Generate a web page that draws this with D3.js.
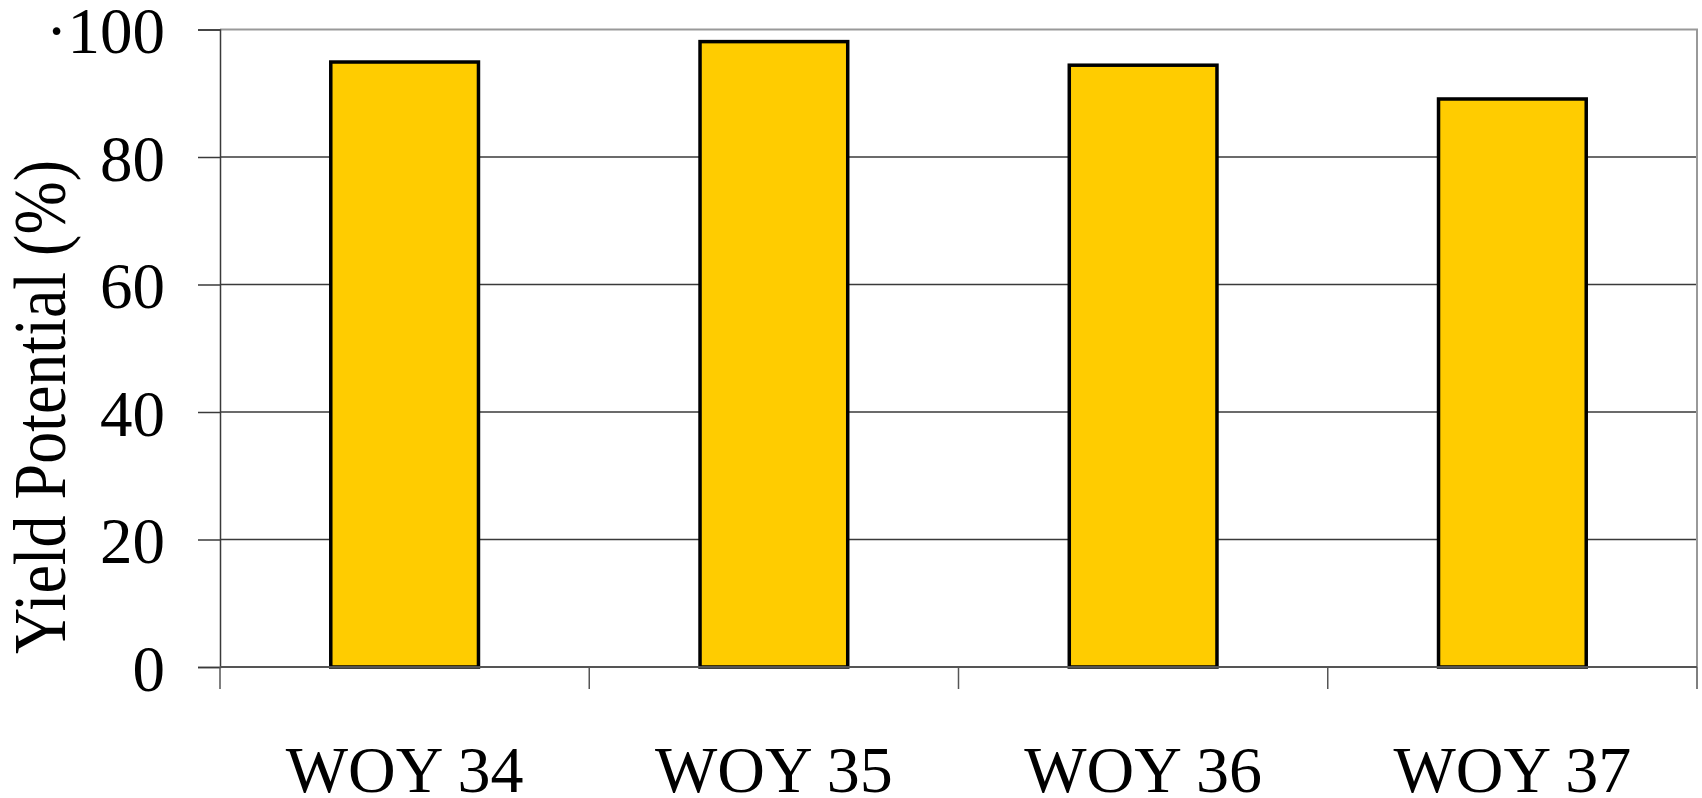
<!DOCTYPE html>
<html>
<head>
<meta charset="utf-8">
<script src="https://cdn.jsdelivr.net/npm/d3@7"></script>
<style>
  body { margin: 0; background: #fff; }
  svg text { font-family: "Liberation Serif", "Times New Roman", serif; fill: #000; }
</style>
</head>
<body>
<div id="chart"></div>
<script>
// data
var categories = ["WOY 34", "WOY 35", "WOY 36", "WOY 37"];
var yieldValues = [94.9, 98.1, 94.4, 89.1];
var yTicks = [0, 20, 40, 60, 80, 100];
var yTickLabels = ["0", "20", "40", "60", "80", "\u00b7100"];

var W = 1702, H = 798;
var margin = {top: 29.5, right: 5, bottom: 131, left: 220};
var width = W - margin.left - margin.right,
    height = H - margin.top - margin.bottom;

var svg = d3.select("#chart")
  .append("svg")
    .attr("width", W)
    .attr("height", H)
  .append("g")
    .attr("transform", "translate(" + margin.left + "," + margin.top + ")");

var x = d3.scaleBand()
  .domain(categories)
  .range([0, width])
  .paddingInner(0.6)
  .paddingOuter(0.3);

// edges between categories, for the tick marks
var xEdge = d3.scaleLinear().domain([0, categories.length]).range([0, width]);

var y = d3.scaleLinear()
  .domain([0, 100])
  .range([height, 0]);

// gridlines
svg.append("g")
  .selectAll("line")
  .data(yTicks.filter(function(d) { return d > 0 && d < 100; }))
  .enter()
  .append("line")
    .attr("x1", 0)
    .attr("x2", width)
    .attr("y1", function(d) { return y(d); })
    .attr("y2", function(d) { return y(d); })
    .attr("stroke", "#3a3a3a")
    .attr("stroke-width", 1.5);

// plot frame top + right
svg.append("path")
  .attr("d", "M0," + y(100) + "H" + width + "V" + y(0))
  .attr("fill", "none")
  .attr("stroke", "#999")
  .attr("stroke-width", 2);

// bars
svg.append("g")
  .selectAll("rect")
  .data(yieldValues)
  .enter()
  .append("rect")
    .attr("x", function(d, i) { return x(categories[i]); })
    .attr("y", function(d) { return y(d); })
    .attr("width", x.bandwidth())
    .attr("height", function(d) { return y(0) - y(d); })
    .attr("fill", "#ffcc00")
    .attr("stroke", "#000")
    .attr("stroke-width", 3.5);

// y axis
var yAxis = svg.append("g")
  .call(d3.axisLeft(y)
    .tickValues(yTicks)
    .tickSize(22)
    .tickPadding(33)
    .tickFormat(function(d, i) { return yTickLabels[i]; }));
yAxis.select(".domain").attr("stroke", "#3a3a3a").attr("stroke-width", 1.5);
yAxis.selectAll(".tick line").attr("stroke", "#3a3a3a").attr("stroke-width", 1.5);
yAxis.selectAll(".tick text")
  .attr("font-size", 65)
  .attr("font-family", "Liberation Serif")
  .attr("dy", "0.36em");

// x axis line and category ticks
svg.append("line")
  .attr("x1", 0).attr("x2", width)
  .attr("y1", y(0)).attr("y2", y(0))
  .attr("stroke", "#555")
  .attr("stroke-width", 2);

svg.append("g")
  .selectAll("line")
  .data(d3.range(categories.length + 1))
  .enter()
  .append("line")
    .attr("x1", function(d) { return xEdge(d); })
    .attr("x2", function(d) { return xEdge(d); })
    .attr("y1", y(0))
    .attr("y2", y(0) + 22)
    .attr("stroke", "#555")
    .attr("stroke-width", 1.5);

// category labels
svg.append("g")
  .selectAll("text")
  .data(categories)
  .enter()
  .append("text")
    .attr("x", function(d) { return x(d) + x.bandwidth() / 2; })
    .attr("y", y(0) + 125)
    .attr("text-anchor", "middle")
    .attr("font-size", 66)
    .text(function(d) { return d; });

// y axis title (glyphs look a bit taller than wide in the original)
svg.append("text")
  .attr("transform", "translate(" + (65 - margin.left) + "," + (407 - margin.top) + ") rotate(-90) scale(1,1.15)")
  .attr("text-anchor", "middle")
  .attr("font-size", 64)
  .text("Yield Potential (%)");
</script>
</body>
</html>
